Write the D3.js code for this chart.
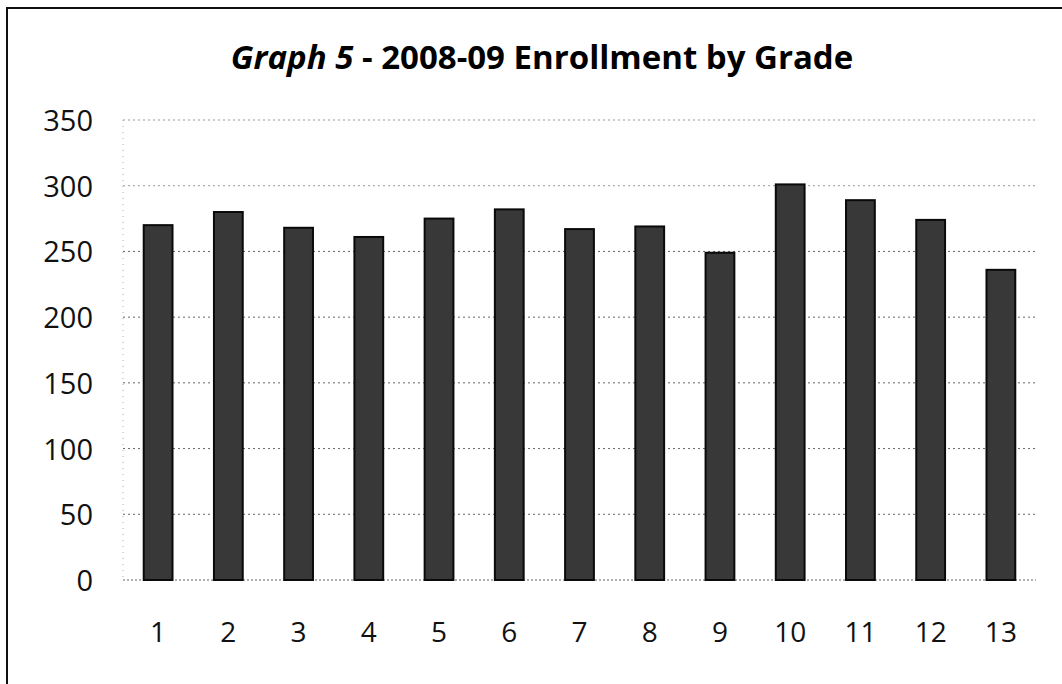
<!DOCTYPE html>
<html>
<head>
<meta charset="utf-8">
<script src="https://cdn.jsdelivr.net/npm/d3@7"></script>
<style>
  body { margin: 0; background: #fff; }
  svg { display: block; }
  .tick text { font-family: "Open Sans", "Noto Sans", sans-serif; fill: #111; }
</style>
</head>
<body>
<div class="chart"></div>
<script>
// Graph 5 - enrollment by grade

var grades = ["1", "2", "3", "4", "5", "6", "7", "8", "9", "10", "11", "12", "13"];
var enrollment = [270, 280, 268, 261, 275, 282, 267, 269, 249, 301, 289, 274, 236];
var yTicks = [0, 50, 100, 150, 200, 250, 300, 350];

var svgWidth = 1062;
var svgHeight = 684;

var margin = { top: 120, right: 26, bottom: 104, left: 123 };
var width = svgWidth - margin.left - margin.right;
var height = svgHeight - margin.top - margin.bottom;

var svg = d3.select(".chart")
  .append("svg")
  .attr("width", svgWidth)
  .attr("height", svgHeight);

// outer frame of the chart
svg.append("rect")
  .attr("x", 7)
  .attr("y", 8)
  .attr("width", svgWidth + 20)
  .attr("height", svgHeight + 20)
  .attr("fill", "none")
  .attr("stroke", "#111")
  .attr("stroke-width", 2);

// title, first part italic
var title = svg.append("text")
  .attr("x", 542)
  .attr("y", 69)
  .attr("text-anchor", "middle")
  .attr("font-family", "'Open Sans', 'Noto Sans', sans-serif")
  .attr("font-weight", "bold")
  .attr("font-size", 33)
  .attr("fill", "#000");
title.append("tspan").attr("font-style", "italic").text("Graph 5");
title.append("tspan").text(" - 2008-09 Enrollment by Grade");

var chartGroup = svg.append("g")
  .attr("transform", `translate(${margin.left}, ${margin.top})`);

var xScale = d3.scaleBand()
  .domain(grades)
  .range([0, width])
  .paddingInner(0.59)
  .paddingOuter(0.295);

var yScale = d3.scaleLinear()
  .domain([0, 350])
  .range([height, 0]);

// gridlines
chartGroup.append("g")
  .selectAll("line")
  .data(yTicks.slice(1))
  .enter()
  .append("line")
  .attr("x1", 0)
  .attr("x2", width)
  .attr("y1", d => yScale(d))
  .attr("y2", d => yScale(d))
  .attr("stroke", d => d >= 300 ? "#999" : "#666")
  .attr("stroke-width", 1)
  .attr("stroke-dasharray", "2,3");

// left dotted axis line and baseline
chartGroup.append("line")
  .attr("x1", 0).attr("x2", 0)
  .attr("y1", yScale(350)).attr("y2", height)
  .attr("stroke", "#aaa")
  .attr("stroke-dasharray", "1,5");
chartGroup.append("line")
  .attr("x1", 0).attr("x2", width)
  .attr("y1", height).attr("y2", height)
  .attr("stroke", "#666")
  .attr("stroke-dasharray", "2,2");

// bars
chartGroup.selectAll("rect.bar")
  .data(enrollment)
  .enter()
  .append("rect")
  .attr("class", "bar")
  .attr("x", (d, i) => xScale(grades[i]))
  .attr("y", d => yScale(d))
  .attr("width", xScale.bandwidth())
  .attr("height", d => height - yScale(d))
  .attr("fill", "#383838")
  .attr("stroke", "#0a0a0a")
  .attr("stroke-width", 2);

// y axis labels
var leftAxis = d3.axisLeft(yScale)
  .tickValues(yTicks)
  .tickSize(0)
  .tickPadding(30);
chartGroup.append("g")
  .call(leftAxis)
  .call(g => g.select(".domain").remove())
  .selectAll("text")
  .attr("font-size", 29)
  .attr("dy", "0.36em");

// x axis labels
var bottomAxis = d3.axisBottom(xScale)
  .tickSize(0)
  .tickPadding(42);
chartGroup.append("g")
  .attr("transform", `translate(0, ${height})`)
  .call(bottomAxis)
  .call(g => g.select(".domain").remove())
  .selectAll("text")
  .attr("font-size", 28);
</script>
</body>
</html>
